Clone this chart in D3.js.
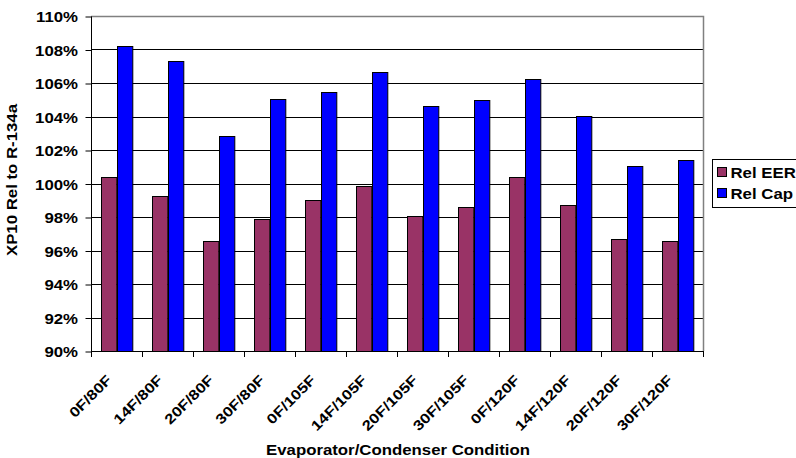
<!DOCTYPE html>
<html>
<head>
<meta charset="utf-8">
<script src="https://cdn.jsdelivr.net/npm/d3@7"></script>
<style>
  body { margin: 0; background: #fff; }
  text { font-family: Arial, "Liberation Sans", sans-serif; font-weight: bold; fill: #000; }
</style>
</head>
<body>
<svg width="796" height="458"></svg>
<script>
// chart data
const conditions = ['0F/80F', '14F/80F', '20F/80F', '30F/80F', '0F/105F', '14F/105F',
    '20F/105F', '30F/105F', '0F/120F', '14F/120F', '20F/120F', '30F/120F'];
const relEER = [100.37, 99.25, 96.57, 97.86, 99.0, 99.85, 98.06, 98.58, 100.41, 98.72, 96.67, 96.57];
const relCap = [108.21, 107.33, 102.82, 105.06, 105.44, 106.64, 104.63, 105.0, 106.22, 104.01, 101.04, 101.38];
const seriesNames = ['Rel EER', 'Rel Cap'];
const seriesColors = ['#993366', '#0000FF'];
const yTicks = [90, 92, 94, 96, 98, 100, 102, 104, 106, 108, 110];

// text in the original is rendered wider than Liberation Sans Bold
const SX = 1.2;

const plotLeft = 91, plotRight = 703, plotTop = 16, plotBottom = 351;

const svg = d3.select('svg');

const x = d3.scaleBand().domain(conditions).range([plotLeft, plotRight]);
const x1 = d3.scaleBand().domain(seriesNames).range([x.bandwidth() * 0.2, x.bandwidth() * 0.8]);
const y = d3.scaleLinear().domain([90, 110]).range([plotBottom, plotTop]);

// gridlines
svg.append('g')
    .selectAll('line')
    .data(yTicks.slice(1, -1))
    .enter()
    .append('line')
    .attr('x1', plotLeft).attr('x2', plotRight)
    .attr('y1', d => Math.round(y(d)) + 0.5)
    .attr('y2', d => Math.round(y(d)) + 0.5)
    .style('stroke', '#000')
    .style('stroke-width', 1);

// plot area border (top + right)
svg.append('path')
    .attr('d', `M${plotLeft},${plotTop + 0.5}H${plotRight + 0.5}V${plotBottom}`)
    .style('fill', 'none')
    .style('stroke', '#808080')
    .style('stroke-width', 1.5);

// bars
const rows = conditions.map((c, i) => ({ cond: c, values: [relEER[i], relCap[i]] }));

const groups = svg.append('g')
    .selectAll('g')
    .data(rows)
    .enter()
    .append('g')
    .attr('transform', d => `translate(${x(d.cond)},0)`);

groups.selectAll('rect')
    .data(d => d.values.map((v, k) => ({ name: seriesNames[k], value: v, color: seriesColors[k] })))
    .enter()
    .append('rect')
    .attr('x', d => Math.round(x1(d.name)) + 0.5)
    .attr('width', x1.bandwidth())
    .attr('y', d => Math.round(y(d.value)) + 0.5)
    .attr('height', d => plotBottom - Math.round(y(d.value)))
    .style('fill', d => d.color)
    .style('stroke', '#000')
    .style('stroke-width', 1);

// y axis
const yAxis = svg.append('g')
    .attr('transform', `translate(${plotLeft + 0.5},0.5)`)
    .call(d3.axisLeft(y).tickValues(yTicks).tickSize(6).tickFormat(d => d + '%'));
yAxis.select('.domain').attr('d', `M0,${plotTop}V${plotBottom}`).style('stroke', '#000');
yAxis.selectAll('.tick line').style('stroke', '#000');
yAxis.selectAll('.tick text').remove();

svg.append('g')
    .selectAll('text')
    .data(yTicks)
    .enter()
    .append('text')
    .attr('transform', d => `translate(78,${y(d) + 6}) scale(${SX},1)`)
    .attr('text-anchor', 'end')
    .style('font-size', '14px')
    .text(d => d + '%');

// x axis
const xAxis = svg.append('g')
    .attr('transform', `translate(0,${plotBottom + 0.5})`)
    .call(d3.axisBottom(x).tickSize(0).tickFormat(''));
xAxis.select('.domain').attr('d', `M${plotLeft},0H${plotRight}`).style('stroke', '#000');
xAxis.selectAll('.tick').remove();

svg.append('g')
    .selectAll('line')
    .data(d3.range(conditions.length + 1))
    .enter()
    .append('line')
    .attr('x1', i => Math.round(plotLeft + i * x.step()) + 0.5)
    .attr('x2', i => Math.round(plotLeft + i * x.step()) + 0.5)
    .attr('y1', plotBottom)
    .attr('y2', plotBottom + 6)
    .style('stroke', '#000');

svg.append('g')
    .selectAll('text')
    .data(conditions)
    .enter()
    .append('text')
    .attr('transform', d => `translate(${x(d) + x.bandwidth() / 2 - 4},${plotBottom + 30}) rotate(-45) scale(${SX},1)`)
    .attr('text-anchor', 'end')
    .style('font-size', '14px')
    .text(d => d);

// axis titles
svg.append('text')
    .attr('transform', `translate(398,455) scale(${SX},1)`)
    .attr('text-anchor', 'middle')
    .style('font-size', '14px')
    .text('Evaporator/Condenser Condition');

svg.append('text')
    .attr('transform', `translate(17,180) rotate(-90) scale(${SX},1)`)
    .attr('text-anchor', 'middle')
    .style('font-size', '14px')
    .text('XP10 Rel to R-134a');

// legend
const legend = svg.append('g').attr('transform', 'translate(712.5,159.5)');
legend.append('rect')
    .attr('width', 120).attr('height', 48)
    .style('fill', '#fff').style('stroke', '#000');

const item = legend.selectAll('g.item')
    .data(seriesNames)
    .enter()
    .append('g')
    .attr('class', 'item')
    .attr('transform', (d, i) => `translate(5,${8 + i * 21})`);
item.append('rect')
    .attr('width', 9).attr('height', 9)
    .style('fill', (d, i) => seriesColors[i])
    .style('stroke', '#000');
item.append('text')
    .attr('transform', `translate(13,10) scale(${SX},1)`)
    .style('font-size', '14px')
    .text(d => d);
</script>
</body>
</html>
